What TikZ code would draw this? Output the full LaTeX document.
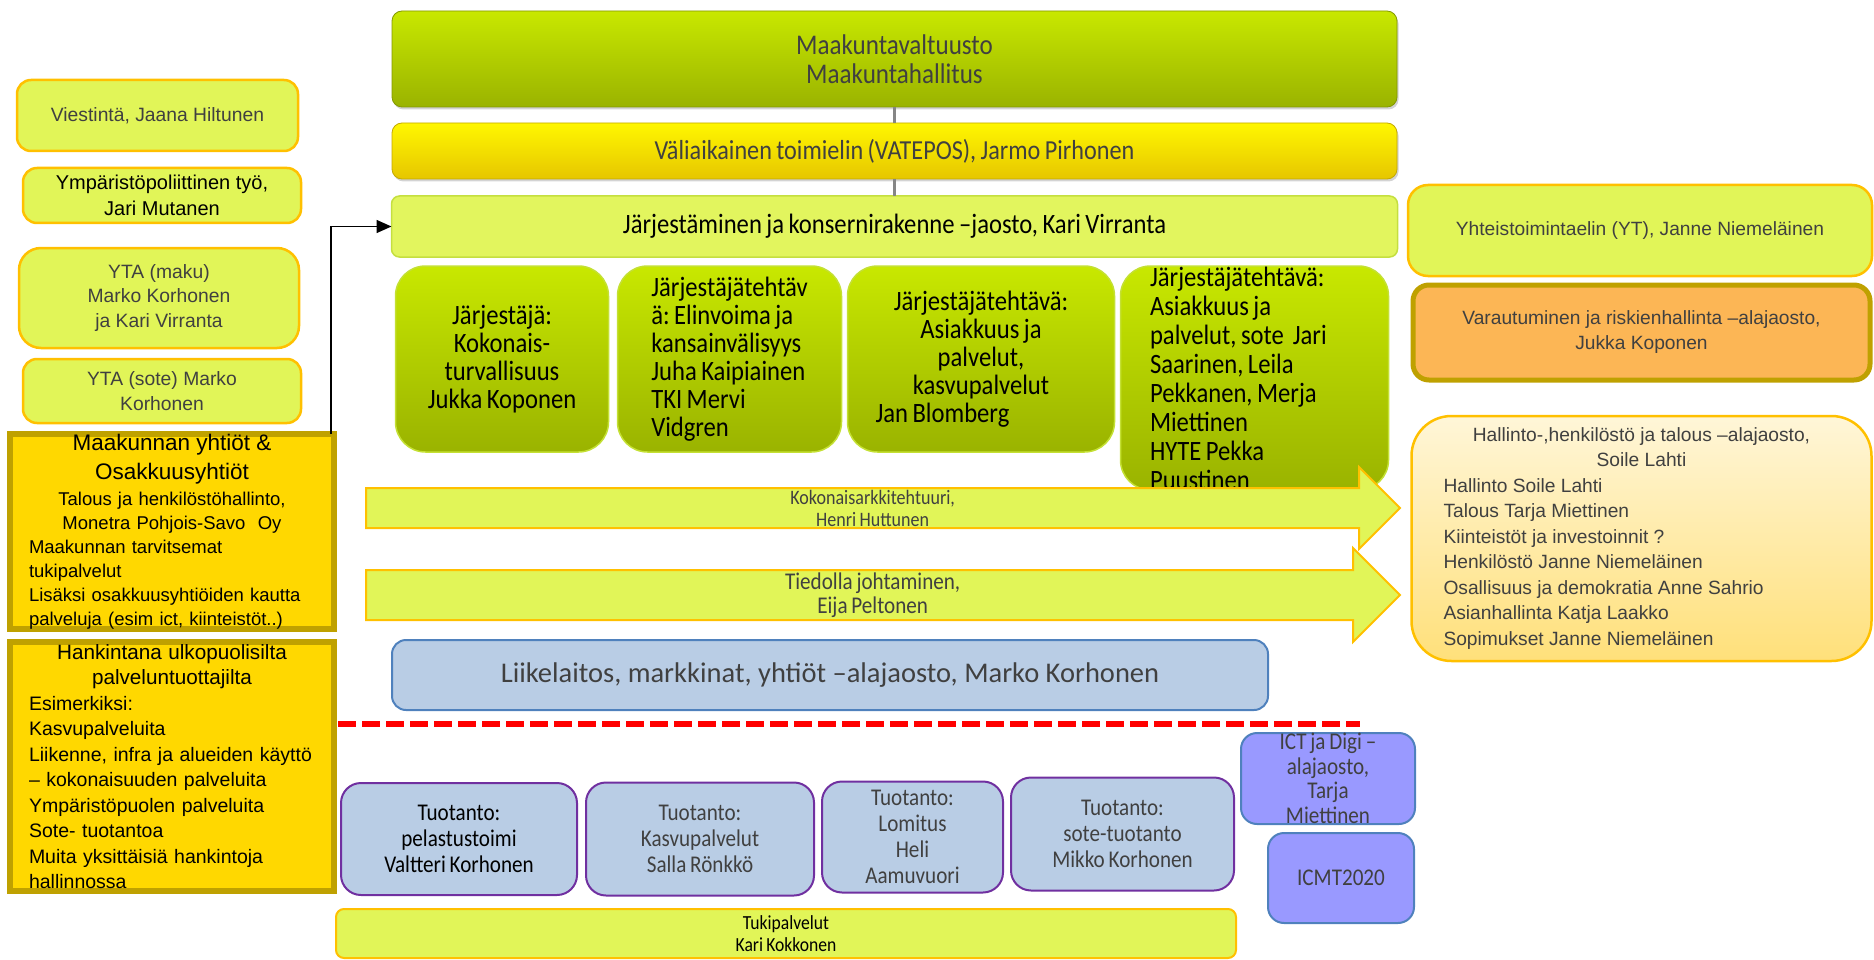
\documentclass[tikz,border=0pt]{standalone}
\usepackage{fontspec}
\setmainfont{Carlito}
\newfontfamily\condfont[FakeStretch=0.88, WordSpace=0.8]{Carlito}
\newfontfamily\tahfont{Liberation Sans}
\usepackage{xcolor}
\usetikzlibrary{shapes.arrows, arrows.meta, positioning, shadows, calc}
\frenchspacing

\newcommand{\pxfont}[2]{\fontsize{#1}{#2}\selectfont}
\newcommand{\leftrow}[1]{\makebox[\hsize][l]{#1}}

\definecolor{textgray}{HTML}{404040}
\definecolor{limefill}{HTML}{E1F558}
\definecolor{limeedge}{HTML}{FFC000}
\definecolor{grasstop}{HTML}{C8E800}
\definecolor{grassbot}{HTML}{9AB300}
\definecolor{grassedge}{HTML}{C4E034}
\definecolor{suntop}{HTML}{FFF700}
\definecolor{sunbot}{HTML}{E6C600}
\definecolor{palelime}{HTML}{E2F55E}
\definecolor{paleedge}{HTML}{C5DF3F}
\definecolor{goldfill}{HTML}{FFD800}
\definecolor{goldedge}{HTML}{BFA100}
\definecolor{steelfill}{HTML}{B9CDE5}
\definecolor{steeledge}{HTML}{4F81BD}
\definecolor{plumedge}{HTML}{7030A0}
\definecolor{lilacfill}{HTML}{9999FF}
\definecolor{peachfill}{HTML}{FCB655}
\definecolor{creamtop}{HTML}{FFF6D8}
\definecolor{creambot}{HTML}{FFE07A}

\begin{document}
\begin{tikzpicture}[
    x=1pt, y=-1pt,
    outer sep=0pt,
    % Styles
    plainspaces/.style={execute at begin node={\spaceskip=\fontdimen2\font\xspaceskip=\fontdimen2\font\relax}},
    councilbox/.style={rectangle, rounded corners=10pt, draw=grassbot!85!black, line width=0.8pt, top color=grasstop, bottom color=grassbot, drop shadow={shadow xshift=1.5pt, shadow yshift=-2.5pt, opacity=0.35}, minimum width=1005pt, inner sep=0pt, align=center, text=textgray, font=\condfont\pxfont{28.5}{29}},
    interimbox/.style={councilbox, draw=sunbot!85!black, top color=suntop, bottom color=sunbot, font=\condfont\pxfont{27.5}{28}},
    sectionbox/.style={rectangle, rounded corners=8pt, draw=paleedge, line width=1.5pt, fill=palelime, minimum width=1006pt, inner sep=0pt, align=center, text=black, font=\condfont\pxfont{28}{28}},
    taskbox/.style={rectangle, rounded corners=30pt, draw=grassedge, line width=1.5pt, top color=grasstop, bottom color=grassbot, minimum height=186pt, inner sep=0pt, text=black, font=\condfont\pxfont{28}{28}, plainspaces},
    bararrow/.style={single arrow, draw=limeedge, line width=2pt, fill=limefill, single arrow head indent=0pt, single arrow tip angle=90, inner xsep=0pt, minimum height=1034pt, anchor=tail},
    arrowtext/.style={inner sep=0pt, align=center, text=textgray},
    unitbox/.style={rectangle, rounded corners=14pt, draw=steeledge, line width=2pt, fill=steelfill, inner sep=0pt, align=center, text=textgray, font=\pxfont{28.5}{30}},
    prodbox/.style={rectangle, rounded corners=20pt, draw=plumedge, line width=2pt, fill=steelfill, inner sep=0pt, align=center, text=textgray, font=\condfont\pxfont{24}{26}, plainspaces},
    digibox/.style={rectangle, rounded corners=16pt, draw=steeledge, line width=2pt, fill=lilacfill, inner sep=0pt, align=center, text=textgray, font=\condfont\pxfont{24}{24.5}, plainspaces},
    supportbar/.style={rectangle, rounded corners=8pt, draw=limeedge, line width=2pt, fill=limefill, inner sep=0pt, align=center, text=black, font=\condfont\pxfont{20}{22}},
    sidebox/.style={rectangle, rounded corners=14pt, draw=limeedge, line width=2.5pt, fill=limefill, inner sep=0pt, align=center, text=textgray, font=\tahfont\pxfont{19.3}{24.7}},
    firmbox/.style={rectangle, draw=goldedge, line width=5.5pt, fill=goldfill, minimum width=324pt, inner sep=0pt, text width=286pt, align=center, text=black, font=\tahfont\pxfont{18.5}{24}},
    riskbox/.style={rectangle, rounded corners=16pt, draw=goldedge, line width=5pt, fill=peachfill, inner sep=0pt, align=center, text=textgray, font=\tahfont\pxfont{19.2}{25}},
    adminbox/.style={rectangle, rounded corners=40pt, draw=limeedge, line width=2.5pt, top color=creamtop, bottom color=creambot, inner sep=0pt, text width=396pt, align=center, text=textgray, font=\tahfont\pxfont{19.2}{25.5}, plainspaces},
    stemline/.style={draw=gray!95, line width=3pt},
    feedarrow/.style={-{Triangle[length=15pt, width=13pt]}, line width=1.5pt, black},
    cutline/.style={red, line width=6pt, dash pattern=on 18pt off 6pt}
]
    \useasboundingbox (0,0) rectangle (1874,960);

    % Top of the organisation
    \node[councilbox, minimum height=96pt] (maakunta) at (894.5,59) {Maakuntavaltuusto\\
    Maakuntahallitus};

    \node[interimbox, minimum height=56pt, below=16pt of maakunta] (valiaik) {Väliaikainen toimielin (VATEPOS), Jarmo Pirhonen};

    \node[sectionbox, minimum height=61pt, below=17pt of valiaik] (jarj) {Järjestäminen ja konsernirakenne –jaosto, Kari Virranta};

    % Organiser tasks in a row
    \node[taskbox, minimum width=213pt, align=center, below right=9pt and 4pt of jarj.south west] (task1) {Järjestäjä:\\
    Kokonais-\\
    turvallisuus\\
    Jukka Koponen};

    \node[taskbox, minimum width=224pt, align=left, right=9pt of task1] (task2) {Järjestäjätehtäv\\
    ä: Elinvoima ja\\
    kansainvälisyys\\
    Juha Kaipiainen\\
    TKI Mervi\\
    Vidgren};

    \node[taskbox, minimum width=267pt, text width=211pt, align=center, right=6pt of task2] (task3) {Järjestäjätehtävä:\\
    Asiakkuus ja\\
    palvelut,\\
    kasvupalvelut\\
    \leftrow{Jan Blomberg}};

    \node[taskbox, minimum width=268pt, minimum height=224pt, text width=209pt, align=left, font=\condfont\pxfont{28}{29}, right=6pt of task3.north east, anchor=north west] (task4) {Järjestäjätehtävä:\\
    Asiakkuus ja\\
    palvelut, sote~ Jari\\
    Saarinen, Leila\\
    Pekkanen, Merja\\
    Miettinen\\
    HYTE Pekka\\
    Puustinen};

    % Cross-cutting arrows
    \node[bararrow, inner ysep=19pt, single arrow head extend=21pt] (arkk) at (366,508) {};
    \node[arrowtext, font=\condfont\pxfont{20.5}{22}] (arkktext) at ($(arkk.tail)!0.49!(arkk.tip)$) {Kokonaisarkkitehtuuri,\\
    Henri Huttunen};

    \node[bararrow, inner ysep=24pt, single arrow head extend=22pt] (tieto) at (366,595) {};
    \node[arrowtext, font=\condfont\pxfont{24}{24}] (tietotext) at ($(tieto.tail)!0.49!(tieto.tip)$) {Tiedolla johtaminen,\\
    Eija Peltonen};

    \node[unitbox, minimum width=876pt, minimum height=70pt] (liike) at (830,675) {Liikelaitos, markkinat, yhtiöt –alajaosto, Marko Korhonen};

    % Separator
    \coordinate (sepL) at (338,724);
    \coordinate (sepR) at (1360,724);
    \draw[cutline] (sepL) -- (sepR);

    % Production units
    \node[prodbox, text=black, minimum width=236pt, minimum height=112pt, anchor=north west] (prod1) at (341,783) {Tuotanto:\\
    pelastustoimi\\
    Valtteri Korhonen};

    \node[prodbox, minimum width=228pt, minimum height=113pt, right=9pt of prod1] (prod2) {Tuotanto:\\
    Kasvupalvelut\\
    Salla Rönkkö};

    \node[prodbox, minimum width=181pt, minimum height=111pt, right=8pt of prod2, yshift=2pt] (prod3) {Tuotanto:\\
    Lomitus\\
    Heli\\
    Aamuvuori};

    \node[prodbox, minimum width=223pt, minimum height=113pt, right=8pt of prod3, yshift=3pt] (prod4) {Tuotanto:\\
    sote-tuotanto\\
    Mikko Korhonen};

    \node[digibox, minimum width=174pt, minimum height=91pt] (ict) at (1328,778.5) {ICT ja Digi –\\
    alajaosto,\\
    Tarja\\
    Miettinen};

    \node[digibox, minimum width=146pt, minimum height=90pt, below=9pt of ict, xshift=13pt] (icmt) {ICMT2020};

    \node[supportbar, minimum width=900pt, minimum height=49pt] (tuki) at (786,933.5) {Tukipalvelut\\
    Kari Kokkonen};

    % Left column
    \node[sidebox, minimum width=281pt, minimum height=71pt] (viest) at (157.5,115.5) {Viestintä, Jaana Hiltunen};

    \node[sidebox, text=black, font=\tahfont\pxfont{20}{26}, minimum width=278pt, minimum height=55pt, below=17pt of viest, xshift=4.5pt] (ymp) {Ympäristöpoliittinen työ,\\
    Jari Mutanen};

    \node[sidebox, rounded corners=22pt, minimum width=280pt, minimum height=100pt, below=25pt of ymp, xshift=-3pt] (ytamaku) {YTA (maku)\\
    Marko Korhonen\\
    ja Kari Virranta};

    \node[sidebox, minimum width=278pt, minimum height=64pt, below=11pt of ytamaku, xshift=3pt] (ytasote) {YTA (sote) Marko\\
    Korhonen};

    \node[firmbox, minimum height=193pt] (yhtiot) at (172,531.5) {{\pxfont{22.5}{28}Maakunnan yhtiöt \&}\\[5pt]
    {\pxfont{22.5}{28}Osakkuusyhtiöt}\\[2pt]
    Talous ja henkilöstöhallinto,\\
    Monetra Pohjois-Savo~ Oy\\
    \leftrow{Maakunnan tarvitsemat}\\
    \leftrow{tukipalvelut}\\
    \leftrow{Lisäksi osakkuusyhtiöiden kautta}\\
    \leftrow{palveluja (esim ict, kiinteistöt..)}};

    \node[firmbox, minimum height=249pt, font=\tahfont\pxfont{19.5}{25.5}, below=13pt of yhtiot] (hank) {{\pxfont{20.7}{25.5}Hankintana ulkopuolisilta}\\
    {\pxfont{20.7}{25.5}palveluntuottajilta}\\
    \leftrow{Esimerkiksi:}\\
    \leftrow{Kasvupalveluita}\\
    \leftrow{Liikenne, infra ja alueiden käyttö}\\
    \leftrow{– kokonaisuuden palveluita}\\
    \leftrow{Ympäristöpuolen palveluita}\\
    \leftrow{Sote- tuotantoa}\\
    \leftrow{Muita yksittäisiä hankintoja}\\
    \leftrow{hallinnossa}};

    % Right column
    \node[sidebox, rounded corners=20pt, font=\tahfont\pxfont{19.2}{25}, minimum width=464pt, minimum height=91pt] (yt) at (1640,230.5) {Yhteistoimintaelin (YT), Janne Niemeläinen};

    \node[riskbox, minimum width=457pt, minimum height=95pt, below=9pt of yt, xshift=1.5pt] (varau) {Varautuminen ja riskienhallinta –alajaosto,\\
    Jukka Koponen};

    \node[adminbox, minimum width=460pt, minimum height=245pt, below=36pt of varau] (hall) {Hallinto-,henkilöstö ja talous –alajaosto,\\
    Soile Lahti\\
    \leftrow{Hallinto Soile Lahti}\\
    \leftrow{Talous Tarja Miettinen}\\
    \leftrow{Kiinteistöt ja investoinnit ?}\\
    \leftrow{Henkilöstö Janne Niemeläinen}\\
    \leftrow{Osallisuus ja demokratia Anne Sahrio}\\
    \leftrow{Asianhallinta Katja Laakko}\\
    \leftrow{Sopimukset Janne Niemeläinen}};

    % Links
    \draw[stemline] (maakunta) -- (valiaik);
    \draw[stemline] (valiaik) -- (jarj);
    \coordinate (riseFoot) at ([xshift=-3pt]yhtiot.north east);
    \draw[feedarrow] (riseFoot) |- (jarj.west);
\end{tikzpicture}
\end{document}
